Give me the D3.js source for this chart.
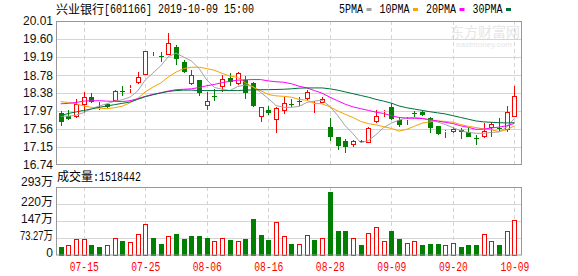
<!DOCTYPE html>
<html><head><meta charset="utf-8">
<script src="https://cdn.jsdelivr.net/npm/d3@7/dist/d3.min.js"></script>
<style>html,body{margin:0;padding:0;background:#fff}svg{display:block}</style>
</head><body>
<svg id="chart" width="578" height="276"></svg>
<script>
// ---------- data ----------
const dates = ["07-10","07-11","07-12","07-15","07-16","07-17","07-18","07-19","07-22","07-23","07-24","07-25","07-26","07-29","07-30","07-31",
"08-01","08-02","08-05","08-06","08-07","08-08","08-09","08-12","08-13","08-14","08-15","08-16","08-19","08-20","08-21","08-22","08-23","08-26","08-27","08-28","08-29","08-30",
"09-02","09-03","09-04","09-05","09-06","09-09","09-10","09-11","09-12","09-16","09-17","09-18","09-19","09-20","09-23","09-24","09-25","09-26","09-27","09-30",
"10-08","10-09"];
const openP  = [17.91,17.86,17.84,18.095,18.28,18.01,18.12,18.20,18.43,18.465, 18.61,18.78,19.20,19.215,19.23,19.41,19.09,18.59,18.67,18.07, 18.31,18.50,18.72,18.59,18.67,18.61,17.82,17.99,17.76,17.97, 18.12,18.20,18.23,18.125,18.155,17.61,17.37,17.29,17.19,17.285, 17.23,17.72,17.95,18.05,17.76,17.76,17.93,17.95,17.80,17.63, 17.49,17.48,17.535,17.50,17.36,17.38,17.58,17.57,17.535,17.84];
const highP  = [17.97,17.99,18.24,18.40,18.37,18.18,18.14,18.45,18.53,18.55, 18.86,19.32,19.31,19.31,19.73,19.47,19.12,18.90,18.67,18.40, 18.46,18.78,18.84,18.86,18.76,18.63,18.05,18.08,18.05,18.29, 18.24,18.28,18.44,18.20,18.29,17.80,17.37,17.32,17.31,17.31, 17.61,18.00,17.99,18.155,17.82,17.84,17.96,17.97,17.82,17.63, 17.535,17.61,17.57,17.57,17.42,17.69,17.72,17.80,18.08,18.53];
const lowP   = [17.62,17.76,17.815,17.91,18.14,17.99,18.03,18.20,18.31,18.38, 18.59,18.78,19.20,19.09,19.23,19.01,18.84,18.56,18.31,18.00, 18.19,18.40,18.54,18.56,18.25,18.05,17.72,17.88,17.47,17.89, 18.06,18.08,18.22,17.93,18.14,17.29,17.07,17.02,17.14,17.23, 17.23,17.70,17.82,17.76,17.595,17.64,17.82,17.85,17.47,17.42, 17.36,17.47,17.33,17.37,17.19,17.36,17.38,17.50,17.50,17.84];
const closeP = [17.72,17.785,18.12,18.28,18.18,18.04,18.05,18.42,18.40,18.49, 18.73,19.32,19.22,19.20,19.50,19.14,18.86,18.78,18.37,18.19, 18.29,18.69,18.62,18.82,18.38,18.08,18.05,17.93,18.03,18.14, 18.10,18.18,18.39,18.155,18.25,17.38,17.17,17.16,17.28,17.27, 17.57,17.85,17.965,17.78,17.65,17.79,17.91,17.87,17.57,17.44, 17.51,17.56,17.50,17.38,17.33,17.51,17.67,17.56,17.95,18.31];
const prevClose = 17.75;
const ma5  = [17.85,17.85,17.87,17.93,18.02,18.08,18.13,18.19,18.22,18.28, 18.42,18.67,18.83,18.99,19.20,19.28,19.19,19.10,18.93,18.67, 18.50,18.46,18.43,18.52,18.56,18.52,18.39,18.25,18.09,18.05, 18.05,18.07,18.16,18.19,18.21,18.07,17.87,17.63,17.45,17.25, 17.29,17.43,17.59,17.69,17.76,17.81,17.82,17.80,17.76,17.72, 17.66,17.59,17.52,17.48,17.46,17.46,17.48,17.49,17.60,17.80];
const ma10 = [18.18,18.16,18.13,18.08,18.05,18.03,18.02,18.04,18.075,18.15, 18.25,18.40,18.51,18.60,18.74,18.85,18.93,18.96,18.96,18.93, 18.89,18.82,18.76,18.73,18.61,18.51,18.43,18.34,18.31,18.30, 18.28,18.23,18.21,18.14,18.13,18.06,17.97,17.89,17.82,17.73, 17.68,17.65,17.61,17.57,17.51,17.55,17.62,17.69,17.72,17.74, 17.73,17.71,17.66,17.62,17.59,17.56,17.54,17.50,17.54,17.63];
const ma20 = [18.13,18.14,18.16,18.19,18.20,18.20,18.19,18.185,18.18,18.20, 18.245,18.30,18.345,18.38,18.42,18.45,18.46,18.47,18.50,18.54, 18.57,18.61,18.64,18.665,18.675,18.68,18.68,18.65,18.63,18.62, 18.585,18.53,18.49,18.43,18.37,18.28,18.20,18.12,18.06,18.02, 17.98,17.94,17.91,17.86,17.82,17.805,17.80,17.795,17.77,17.74, 17.71,17.68,17.63,17.595,17.55,17.555,17.58,17.60,17.63,17.685];
const ma30 = [17.86,17.91,17.945,17.98,18.01,18.05,18.08,18.11,18.14,18.17, 18.23,18.29,18.335,18.375,18.41,18.43,18.44,18.44,18.43,18.43, 18.43,18.43,18.43,18.43,18.44,18.445,18.45,18.45,18.455,18.46, 18.47,18.485,18.49,18.49,18.49,18.47,18.44,18.40,18.36,18.32, 18.28,18.23,18.19,18.145,18.08,18.04,18.01,17.98,17.95,17.925, 17.90,17.86,17.82,17.78,17.74,17.72,17.71,17.70,17.695,17.70];
const volume = [38.5,45.6,71.3,71.3,42.8,38.5,42.8,75.6,62.7,58.5, 92.7,135.4,77.0,51.3,84.1,94.1,72.7,85.5,85.5,77.0, 62.7,75.6,64.2,62.7,72.7,158.3,89.8,68.4,144.0,81.3, 51.3,51.3,88.4,64.2,77.0,273.7,102.7,102.7,77.0,47.0, 98.4,124.0,59.9,102.7,72.7,55.6,59.9,42.8,51.3,51.3, 42.8,55.6,38.5,42.8,42.8,94.1,62.7,42.8,102.7,151.84];
const priceTicks = [20.01,19.60,19.19,18.78,18.38,17.97,17.56,17.15,16.74];
const volTicks = [0,73.27,146.54,219.81,293.08];
const volTickLabels = ["0","73.27万","147万","220万","293万"];
const dateTicks = ["07-15","07-25","08-06","08-16","08-28","09-09","09-20","10-09"];
const maNames = ["5PMA","10PMA","20PMA","30PMA"];
const titleName = "兴业银行";
const titleInfo = "[601166] 2019-10-09 15:00";
const volLabel = "成交量";
const lastVolume = 1518442;

// ---------- style ----------
const RED = "#ff0000", GREEN = "#008000";
const maColors = ["#a3a3a3","#f4a300","#ff00ff","#006f3a"];
const GRID = "#d4d4d4", FRAME = "#999999";
const MONO = "'Liberation Mono', monospace";
const SANS = "'Liberation Sans', 'Noto Sans CJK SC', sans-serif";
const CJK = "'Noto Sans CJK SC', sans-serif";

const L = 56, R = 522, T = 21, B = 165, VT = 187, VB = 255.5;

const svg = d3.select("#chart");
svg.append("rect").attr("width",578).attr("height",276).attr("fill","#fff");

const x = d3.scalePoint().domain(dates).range([60.7, 514.4]);
const y = d3.scaleLinear().domain([16.74, 20.01]).range([B, T]);
const yv = d3.scaleLinear().domain([0, 293.08]).range([VB, VT]);
const px = d => Math.round(x(d));

// watermark
svg.append("text").attr("x",450).attr("y",37).attr("font-family",CJK).attr("font-size",14)
  .attr("fill","#e6e6e6").text("东方财富网");
svg.append("text").attr("x",456).attr("y",47).attr("font-family",SANS).attr("font-size",8)
  .attr("fill","#e6e6e6").text("eastmoney.com");

// title
svg.append("text").attr("x",56).attr("y",13.6).attr("font-family",CJK).attr("font-size",12)
  .attr("fill","#000").text(titleName);
svg.append("text").attr("x",104).attr("y",13.4).attr("font-family",MONO).attr("font-size",12)
  .attr("fill","#000").attr("textLength",titleInfo.length*6).attr("lengthAdjust","spacingAndGlyphs").text(titleInfo);

// legend
let lx = 339;
maNames.forEach((n,i)=>{
  const w = n.length*6;
  svg.append("text").attr("x",lx).attr("y",12.7).attr("font-family",MONO).attr("font-size",12)
    .attr("fill","#000").attr("textLength",w).attr("lengthAdjust","spacingAndGlyphs").text(n);
  svg.append("rect").attr("x",lx+w+3.5).attr("y",8).attr("width",5).attr("height",3).attr("fill",maColors[i]);
  lx += w + 3.5 + 5 + 8;
});

// ---------- grids ----------
const grid = svg.append("g");
grid.selectAll(".hg").data(priceTicks.slice(1,-1)).join("line")
  .attr("x1",L).attr("x2",R).attr("y1",d=>Math.round(y(d))+0.5).attr("y2",d=>Math.round(y(d))+0.5)
  .attr("stroke",GRID).attr("stroke-width",1);
grid.selectAll(".hv").data(volTicks.slice(1,-1)).join("line")
  .attr("x1",L).attr("x2",R).attr("y1",d=>Math.round(yv(d))+0.5).attr("y2",d=>Math.round(yv(d))+0.5)
  .attr("stroke",GRID).attr("stroke-width",1);
dateTicks.forEach(d=>{
  [[T,B],[VT,VB]].forEach(([a,b])=>{
    grid.append("line").attr("x1",px(d)+0.5).attr("x2",px(d)+0.5).attr("y1",a).attr("y2",b)
      .attr("stroke",GRID).attr("stroke-dasharray","4,3");
  });
});

// ---------- axes ----------
const ay = svg.append("g").attr("transform",`translate(${L},0)`)
  .call(d3.axisLeft(y).tickValues(priceTicks).tickFormat(d3.format(".2f")).tickSize(0).tickPadding(3));
ay.select(".domain").remove();
ay.selectAll("text").attr("font-family",SANS).attr("font-size",12).attr("fill","#111");

const av = svg.append("g").attr("transform",`translate(${L},0)`)
  .call(d3.axisLeft(yv).tickValues(volTicks).tickFormat((d,i)=>volTickLabels[i]).tickSize(0).tickPadding(3));
av.select(".domain").remove();
av.selectAll("text").attr("font-family",SANS).attr("font-size",12).attr("fill","#111")
  .attr("dy",(d,i)=> i===volTicks.length-1 ? "-0.1em" : "0.12em")
  .each(function(d,i){ if(volTickLabels[i]==="73.27万") d3.select(this).attr("textLength",33).attr("lengthAdjust","spacingAndGlyphs"); });

const ax = svg.append("g").attr("transform",`translate(0,${VB})`)
  .call(d3.axisBottom(x).tickValues(dateTicks).tickSize(0).tickPadding(7));
ax.select(".domain").remove();
ax.selectAll("text").attr("font-family",MONO).attr("font-size",12).attr("fill",RED)
  .attr("textLength",29).attr("lengthAdjust","spacingAndGlyphs");

// volume label
svg.append("text").attr("x",57).attr("y",181).attr("font-family",CJK).attr("font-size",12).attr("fill","#000").text(volLabel);
const vtxt = ":" + lastVolume;
svg.append("text").attr("x",93).attr("y",180.8).attr("font-family",MONO).attr("font-size",12).attr("fill","#000")
  .attr("textLength",vtxt.length*6).attr("lengthAdjust","spacingAndGlyphs").text(vtxt);

// ---------- candles ----------
const bars = dates.map((d,i)=>({d,o:openP[i],h:highP[i],l:lowP[i],c:closeP[i],v:volume[i],
  volUp: closeP[i] >= (i ? closeP[i-1] : prevClose)}));
const cg = svg.append("g");
bars.forEach(b=>{
  const cx = px(b.d);
  const up = b.c >= b.o;
  const yTop = Math.round(y(Math.max(b.o,b.c))), yBot = Math.round(y(Math.min(b.o,b.c)));
  const yH = Math.round(y(b.h)), yL = Math.round(y(b.l));
  if(up){
    cg.append("line").attr("x1",cx+0.5).attr("x2",cx+0.5).attr("y1",yH).attr("y2",yTop).attr("stroke",RED);
    cg.append("line").attr("x1",cx+0.5).attr("x2",cx+0.5).attr("y1",yBot).attr("y2",yL).attr("stroke",RED);
    cg.append("rect").attr("x",cx-1.5).attr("y",yTop+0.5).attr("width",4).attr("height",Math.max(0,yBot-yTop-1))
      .attr("fill","#fff").attr("stroke",RED);
  } else {
    cg.append("line").attr("x1",cx+0.5).attr("x2",cx+0.5).attr("y1",yH).attr("y2",yL).attr("stroke",GREEN);
    cg.append("rect").attr("x",cx-2).attr("y",yTop).attr("width",5).attr("height",Math.max(1,yBot-yTop)).attr("fill",GREEN);
  }
});

// ---------- moving averages ----------
const line = d3.line().x((d,i)=>x(dates[i])).y(d=>y(d));
[ma5,ma10,ma20,ma30].forEach((s,k)=>{
  svg.append("path").attr("d",line(s)).attr("fill","none").attr("stroke",maColors[k]).attr("stroke-width",1);
});

// ---------- volume ----------
const vg = svg.append("g");
bars.forEach(b=>{
  const cx = px(b.d);
  const top = Math.round(yv(b.v));
  if(b.volUp){
    vg.append("rect").attr("x",cx-1.5).attr("y",top+0.5).attr("width",4).attr("height",Math.round(VB)-top-1)
      .attr("fill","#fff").attr("stroke",RED);
  } else {
    vg.append("rect").attr("x",cx-2).attr("y",top).attr("width",5).attr("height",Math.round(VB)-top).attr("fill",GREEN);
  }
});

// ---------- frames ----------
[[T,B],[VT,VB]].forEach(([a,b])=>{
  svg.append("rect").attr("x",L+0.5).attr("y",a+0.5).attr("width",R-L-1).attr("height",b-a-1)
    .attr("fill","none").attr("stroke",FRAME);
});
</script>
</body></html>
